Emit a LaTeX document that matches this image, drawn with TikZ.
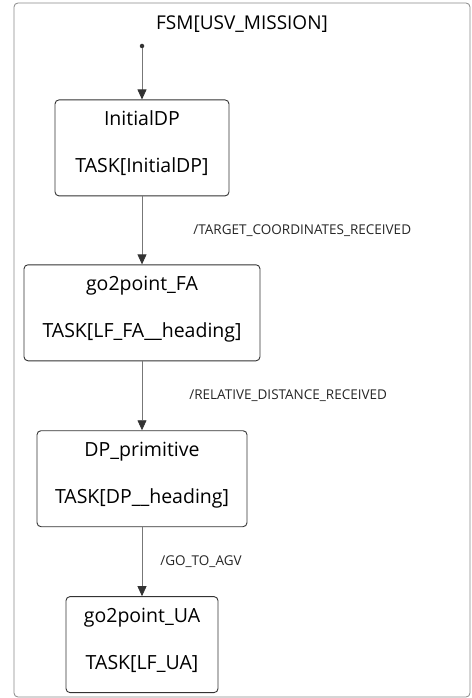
\documentclass[tikz,border=0pt]{standalone}
\usepackage{fontspec}
\setmainfont{Open Sans}
\usetikzlibrary{positioning, arrows.meta}
\definecolor{LineG}{HTML}{777777}
\definecolor{EdgeD}{HTML}{333333}
\definecolor{FrameG}{HTML}{888888}
\tikzset{
  state/.style={draw=EdgeD, rounded corners=4pt, align=center, font=\fontsize{19.5}{24}\selectfont, minimum height=96pt, inner sep=2pt, line width=0.9pt},
  lbl/.style={font=\fontsize{13.5}{15}\selectfont, text=black!85, inner sep=0pt},
  arr/.style={-{Triangle[length=10pt,width=9pt,color=EdgeD]}, draw=LineG, line width=0.8pt},
  startdot/.style={circle, fill=EdgeD, inner sep=0pt, minimum size=4.5pt}
}
\begin{document}
\begin{tikzpicture}[x=1pt, y=-1pt, node distance=68pt]
  \useasboundingbox (0,0) rectangle (471,698);
  \draw[FrameG, rounded corners=4pt, line width=0.8pt] (14,3) rectangle (470,697);
  \node[font=\fontsize{19}{24}\selectfont] (title) at (242,24) {FSM[USV\_MISSION]};

  \node[startdot] (start) at (142,46) {};
  \node[state, minimum width=174pt, below=51pt of start] (initdp) {InitialDP\\[23pt]TASK[InitialDP]\\[-12pt]};
  \node[state, minimum width=236pt, below=of initdp] (gofa) {go2point\_FA\\[23pt]TASK[LF\_FA\_\_heading]\\[-12pt]};
  \node[state, minimum width=210pt, below=69pt of gofa] (dpprim) {DP\_primitive\\[23pt]TASK[DP\_\_heading]\\[-12pt]};
  \node[state, minimum width=152pt, below=69pt of dpprim] (goua) {go2point\_UA\\[23pt]TASK[LF\_UA]\\[-12pt]};

  \draw[arr] (start) -- (initdp);
  \draw[arr] (initdp) -- node[lbl, right=51pt] {/TARGET\_COORDINATES\_RECEIVED} (gofa);
  \draw[arr] (gofa) -- node[lbl, right=47pt] {/RELATIVE\_DISTANCE\_RECEIVED} (dpprim);
  \draw[arr] (dpprim) -- node[lbl, right=18pt] {/GO\_TO\_AGV} (goua);
\end{tikzpicture}
\end{document}
